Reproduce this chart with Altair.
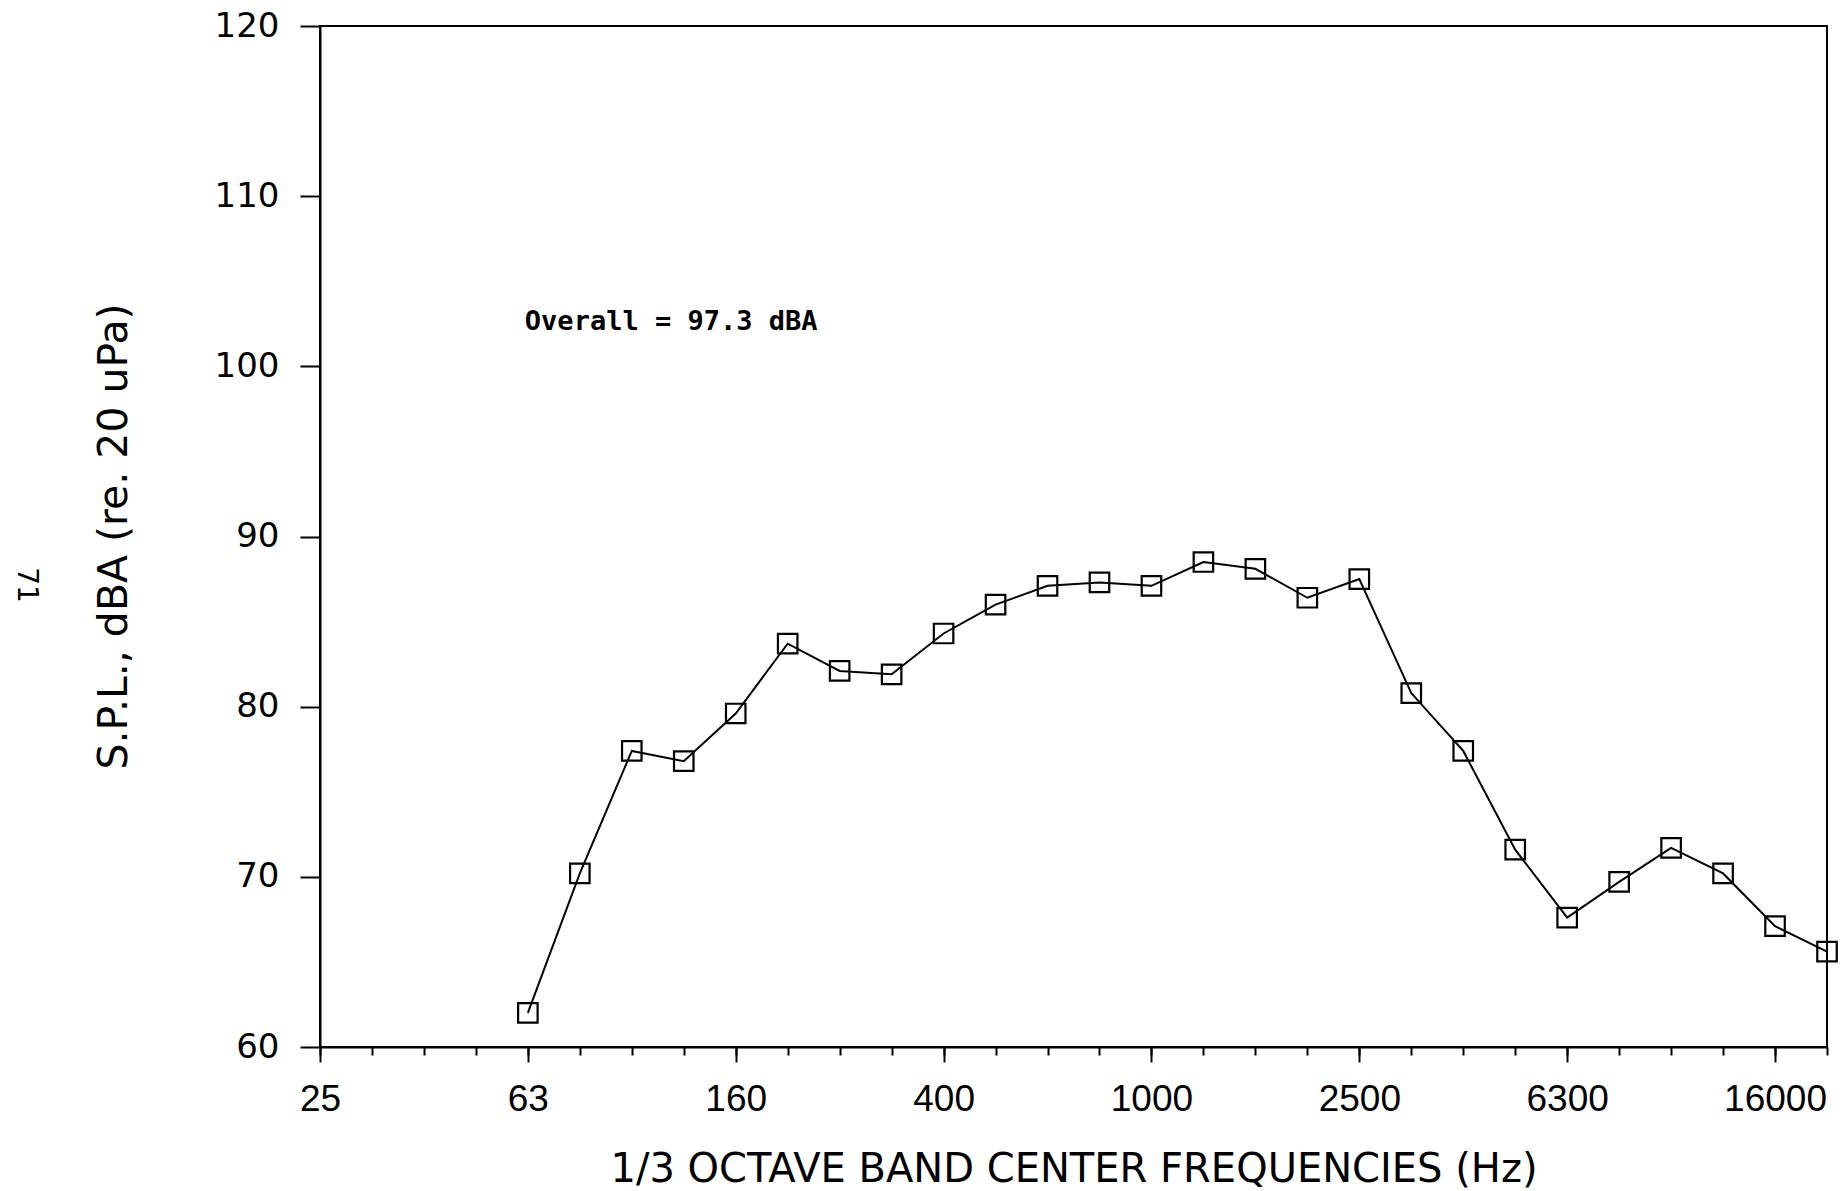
import altair as alt
import pandas as pd

# 1/3 octave band centre frequencies (Hz) spanning the axis
bands = ["25", "31.5", "40", "50", "63", "80", "100", "125", "160", "200",
         "250", "315", "400", "500", "630", "800", "1000", "1250", "1600",
         "2000", "2500", "3150", "4000", "5000", "6300", "8000", "10000",
         "12500", "16000", "20000"]

# Measured bands and A-weighted sound pressure levels (dBA re. 20 uPa)
meas_bands = ["63", "80", "100", "125", "160", "200", "250", "315", "400",
              "500", "630", "800", "1000", "1250", "1600", "2000", "2500",
              "3150", "4000", "5000", "6300", "8000", "10000", "12500",
              "16000", "20000"]
spl = [62.0, 70.2, 77.4, 76.8, 79.6, 83.7, 82.1, 81.9, 84.3, 86.0, 87.1,
       87.3, 87.1, 88.5, 88.1, 86.4, 87.5, 80.8, 77.4, 71.6, 67.6, 69.7,
       71.7, 70.2, 67.1, 65.6]

labelled_bands = ["25", "63", "160", "400", "1000", "2500", "6300", "16000"]
y_ticks = [60, 70, 80, 90, 100, 110, 120]

overall_text = "Overall = 97.3 dBA"
overall_band = "63"
overall_level = 102.6

df = pd.DataFrame({"band": meas_bands, "spl": spl})

x_scale = alt.Scale(domain=bands, type="point", padding=0)
y_scale = alt.Scale(domain=[60, 120], nice=False, zero=False)

major_x_axis = alt.Axis(
    orient="bottom", values=labelled_bands, tickSize=15, tickWidth=2,
    tickColor="black", domainColor="black", domainWidth=2,
    labelFont="Liberation Sans", labelFontSize=37, labelColor="black",
    labelPadding=19, labelAngle=0, labelBaseline="top",
    title="1/3 OCTAVE BAND CENTER FREQUENCIES (Hz)",
    titleFont="DejaVu Sans", titleFontSize=40, titleFontWeight="normal",
    titleColor="black", titleY=122, titleBaseline="middle", grid=False,
)

minor_x_axis = alt.Axis(
    orient="bottom", values=bands, tickSize=8, tickWidth=2,
    tickColor="black", labels=False, domain=False, title=None, grid=False,
)

y_axis = alt.Axis(
    values=y_ticks, tickSize=20, tickWidth=2, tickColor="black",
    domainColor="black", domainWidth=2,
    labelFont="DejaVu Sans", labelFontSize=34, labelColor="black",
    labelPadding=21, grid=False,
    title="S.P.L., dBA (re. 20 uPa)", titleFont="DejaVu Sans",
    titleFontSize=41, titleFontWeight="normal", titleColor="black",
    titleX=-206, titleY=510, titleAlign="center", titleBaseline="middle",
    titleAngle=270,
)

base = alt.Chart(df)

line = base.mark_line(color="black", strokeWidth=2).encode(
    x=alt.X("band:O", scale=x_scale, axis=major_x_axis, sort=bands),
    y=alt.Y("spl:Q", scale=y_scale, axis=y_axis),
)

points = base.mark_point(
    shape="square", filled=False, color="black", size=380, strokeWidth=2.2,
    opacity=1,
).encode(
    x=alt.X("band:O", scale=x_scale, axis=minor_x_axis, sort=bands),
    y=alt.Y("spl:Q", scale=y_scale, axis=None),
)

note = alt.Chart(pd.DataFrame({"band": [overall_band], "lvl": [overall_level],
                               "txt": [overall_text]})).mark_text(
    font="DejaVu Sans Mono", fontSize=27, fontWeight="bold", color="black",
    align="left", baseline="middle", dx=-3,
).encode(
    x=alt.X("band:O", scale=x_scale, axis=None, sort=bands),
    y=alt.Y("lvl:Q", scale=y_scale, axis=None),
    text="txt:N",
)

page_no = alt.Chart(pd.DataFrame({"t": ["71"]})).mark_text(
    font="DejaVu Sans", fontSize=28, color="black", angle=90,
    align="center", baseline="middle",
).encode(x=alt.value(-294), y=alt.value(559), text="t:N")

chart = alt.layer(line, points, note, page_no).resolve_axis(
    x="independent", y="independent"
).properties(
    width=1507, height=1021,
    autosize=alt.AutoSizeParams(type="none"),
    padding={"left": 320, "top": 26, "right": 20, "bottom": 144},
    background="white",
).configure_view(stroke="black", strokeWidth=2)

chart.save("out.html", embed_options={"renderer": "svg", "actions": False})
